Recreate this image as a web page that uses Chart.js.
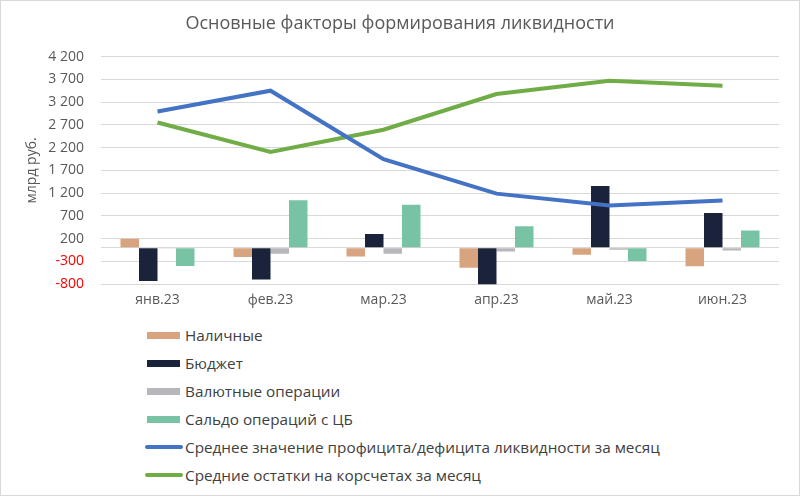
<!DOCTYPE html>
<html lang="ru">
<head>
<meta charset="utf-8">
<script src="https://cdn.jsdelivr.net/npm/chart.js@4"></script>
<style>
  body { margin: 0; background: #fff; }
  #frame {
    position: relative;
    width: 800px;
    height: 496px;
    box-sizing: border-box;
    border: 1px solid #d9d9d9;
    font-family: "Open Sans", sans-serif;
  }
  #chartBox { position: absolute; left: 0; top: 0; width: 798px; height: 320px; }
  #legend { position: absolute; left: 146px; top: 320px; }
  .item { display: flex; align-items: center; height: 28px; font-size: 15.3px; color: #404040; }
  .sw { display: inline-block; width: 33px; margin-right: 5px; }
</style>
</head>
<body>
<div id="frame">
  <div id="chartBox"><canvas id="liqChart" width="798" height="320"></canvas></div>
  <div id="legend"></div>
</div>
<script>
const months = ["янв.23", "фев.23", "мар.23", "апр.23", "май.23", "июн.23"];

const cash = [200, -205, -190, -436, -153, -408];
const budget = [-728, -698, 305, -828, 1358, 763];
const fxOps = [-15, -130, -130, -80, -44, -59];
const cbBalance = [-400, 1046, 944, 471, -292, 377];
const liquidity = [2993, 3451, 1947, 1190, 930, 1040];
const corrAccounts = [2753, 2106, 2594, 3379, 3669, 3560];

const yTicks = [-800, -300, 200, 700, 1200, 1700, 2200, 2700, 3200, 3700, 4200];

const grey = "#595959";

function fmt(v) {
  const s = Math.abs(v).toString().replace(/\B(?=(\d{3})+(?!\d))/g, " ");
  return (v < 0 ? "-" : "") + s;
}

const series = [
  { label: "Наличные", type: "bar", data: cash, color: "#d8a47f" },
  { label: "Бюджет", type: "bar", data: budget, color: "#1a2339" },
  { label: "Валютные операции", type: "bar", data: fxOps, color: "#b7b7bb" },
  { label: "Сальдо операций с ЦБ", type: "bar", data: cbBalance, color: "#79c3a5" },
  { label: "Среднее значение профицита/дефицита ликвидности за месяц", type: "line", data: liquidity, color: "#4472c4" },
  { label: "Средние остатки на корсчетах за месяц", type: "line", data: corrAccounts, color: "#70ad47" },
];

const datasets = series.map((s) => {
  if (s.type === "bar") {
    return {
      type: "bar",
      label: s.label,
      data: s.data,
      backgroundColor: s.color,
      categoryPercentage: 0.655,
      barPercentage: 1,
      order: 1,
    };
  }
  return {
    type: "line",
    label: s.label,
    data: s.data,
    borderColor: s.color,
    backgroundColor: s.color,
    borderWidth: 4,
    pointRadius: 0,
    tension: 0,
    order: 0,
  };
});

const ctx = document.getElementById("liqChart").getContext("2d");

new Chart(ctx, {
  type: "bar",
  data: { labels: months, datasets: datasets },
  options: {
    responsive: false,
    animation: false,
    layout: { padding: { left: 0, right: 0, top: 0, bottom: 6 } },
    plugins: {
      legend: { display: false },
      tooltip: { enabled: false },
      title: {
        display: true,
        text: "Основные факторы формирования ликвидности",
        color: grey,
        font: { family: "Open Sans", size: 18, weight: "normal" },
        padding: { top: 12, bottom: 22 },
      },
    },
    scales: {
      x: {
        grid: { display: false, drawTicks: false },
        border: { display: false },
        ticks: {
          color: grey,
          padding: 7,
          font: { family: "Open Sans", size: 14 },
        },
      },
      y: {
        min: -800,
        max: 4200,
        afterBuildTicks: (scale) => {
          scale.ticks = yTicks.concat([0]).sort((a, b) => a - b).map((v) => ({ value: v }));
        },
        afterFit: (scale) => {
          scale.width = 100;
        },
        grid: { color: "#d9d9d9", drawTicks: false },
        border: { display: false },
        ticks: {
          padding: 17,
          font: { family: "Open Sans", size: 14 },
          color: (c) => (c.tick && c.tick.value < 0 ? "#ff0000" : grey),
          callback: (v) => (v === 0 ? "" : fmt(v)),
        },
        title: {
          display: true,
          text: "млрд руб.",
          color: grey,
          font: { family: "Open Sans", size: 14 },
          padding: { top: 23, bottom: 0 },
        },
      },
      // empty right-hand spacer so the title stays centred on the whole box
      spacer: {
        type: "linear",
        position: "right",
        grid: { display: false, drawTicks: false },
        border: { display: false },
        ticks: { display: false },
        afterFit: (scale) => {
          scale.width = 20;
        },
      },
    },
  },
});

const legendEl = document.getElementById("legend");
series.forEach((s) => {
  const row = document.createElement("div");
  row.className = "item";
  const sw = document.createElement("span");
  sw.className = "sw";
  sw.style.background = s.color;
  if (s.type === "bar") {
    sw.style.height = "7px";
  } else {
    sw.style.height = "4px";
    sw.style.borderRadius = "2px";
    sw.style.width = "38px";
    sw.style.marginLeft = "-2px";
    sw.style.marginRight = "2px";
  }
  row.appendChild(sw);
  row.appendChild(document.createTextNode(s.label));
  legendEl.appendChild(row);
});
</script>
</body>
</html>
